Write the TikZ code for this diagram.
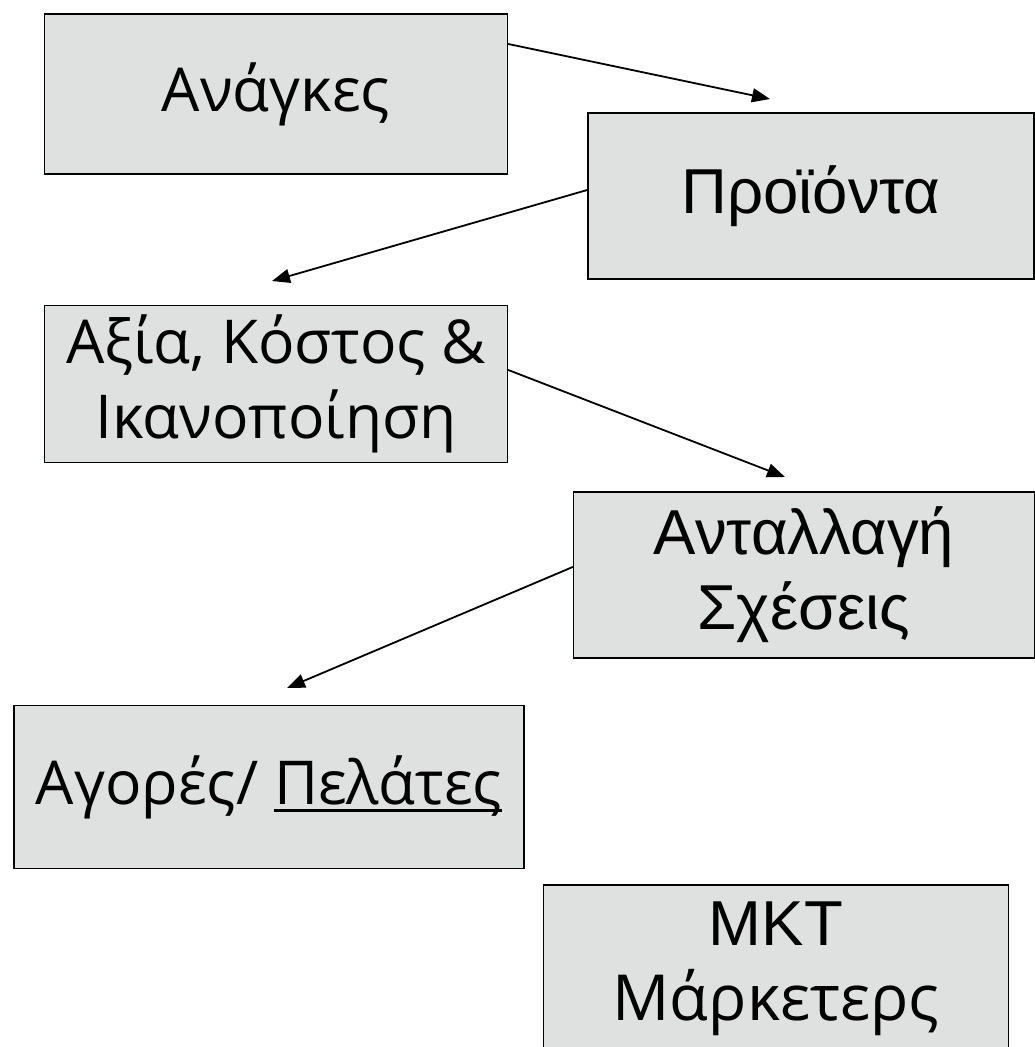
\documentclass[tikz,border=0pt]{standalone}
\usepackage{fontspec}
\setmainfont{Liberation Sans}
\newfontfamily\humfont{Open Sans}
\usepackage{tikz}
\usetikzlibrary{calc,arrows.meta}
\definecolor{boxfill}{HTML}{DEE1E0}
\definecolor{ink}{HTML}{000000}
\newcommand{\thickul}[1]{\setbox0\hbox{#1}\rlap{\rule[-8pt]{\wd0}{3pt}}#1}
\tikzset{
  card/.style={draw=ink, fill=boxfill, line width=1.6pt, align=center, inner sep=0pt,
    font=\fontsize{63.5}{75}\selectfont},
  hcard/.style={card, font=\humfont\fontsize{60.5}{75}\selectfont},
  link/.style={draw=ink, line width=1.8pt, line cap=round, -{Triangle[length=18pt,width=14pt]}},
}

\begin{document}
\begin{tikzpicture}[x=1pt,y=-1pt]
  \clip (0,0) rectangle (1035,1047);

  \node[hcard, minimum width=463pt, minimum height=160pt] (needs) at (276,94) {Ανάγκες};
  \node[card, minimum width=446pt, minimum height=166pt] (prod) at (811,196) {Προϊόντα};
  \node[hcard, minimum width=463pt, minimum height=157pt] (value) at (276,384) {Αξία, Κόστος \&\\ Ικανοποίηση};
  \node[card, minimum width=461pt, minimum height=166pt] (exch) at (804,575) {Ανταλλαγή\\Σχέσεις};
  \node[hcard, minimum width=510pt, minimum height=163pt] (market) at (269,787) {Αγορές/ \thickul{Πελάτες}};
  \node[card, minimum width=465pt, minimum height=168pt] (mkt) at (776,969) {MKT\\{\humfont Μάρκετερς}};

  % free arrow ends
  \coordinate (t1) at (770,99);
  \coordinate (t2) at (272,281);
  \coordinate (t3) at (785,477);
  \coordinate (t4) at (287,688);

  \draw[link] ([yshift=50pt]needs.east) -- (t1);
  \draw[link] ([yshift=6pt]prod.west) -- (t2);
  \draw[link] ([yshift=14pt]value.east) -- (t3);
  \draw[link] ([yshift=8pt]exch.west) -- (t4);
\end{tikzpicture}
\end{document}
